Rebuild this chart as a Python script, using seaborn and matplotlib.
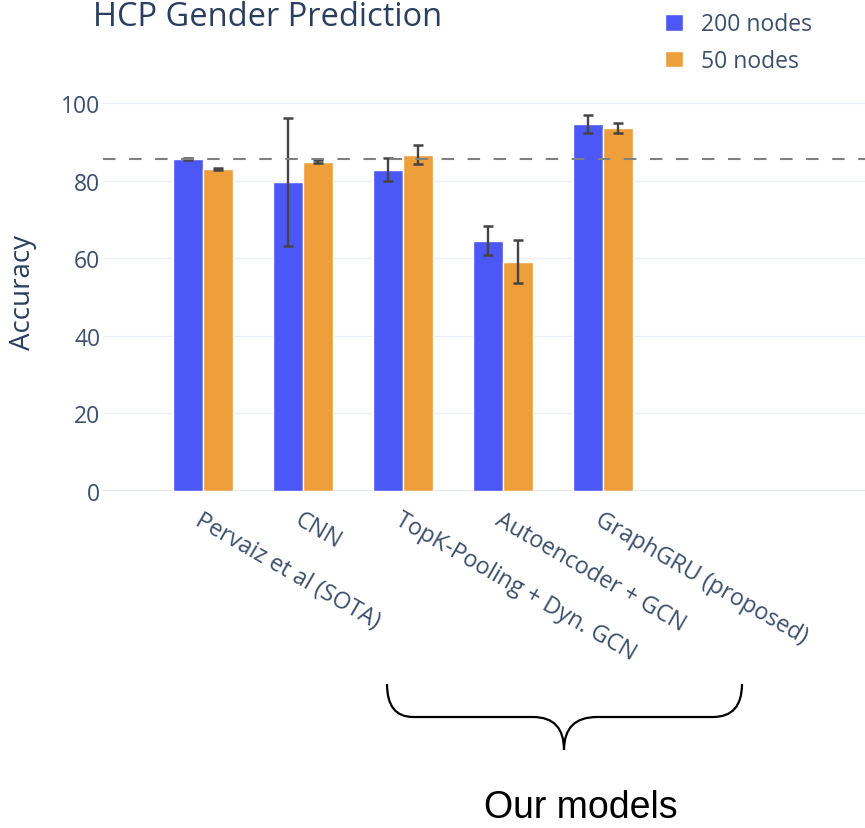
import matplotlib
matplotlib.use("Agg")
import matplotlib.pyplot as plt
from matplotlib.path import Path
from matplotlib.patches import PathPatch
import numpy as np
import pandas as pd
import seaborn as sns

# values
models = ["Pervaiz et al (SOTA)", "CNN", "TopK-Pooling + Dyn. GCN",
          "Autoencoder + GCN", "GraphGRU (proposed)"]
acc_200 = [85.6, 79.6, 82.8, 64.5, 94.6]
err_200 = [0.2, 16.4, 2.9, 3.7, 2.4]
acc_50 = [83.0, 84.9, 86.7, 59.1, 93.6]
err_50 = [0.2, 0.5, 2.4, 5.5, 1.3]
series = ["200 nodes", "50 nodes"]
sota_line = 85.6
y_ticks = [0, 20, 40, 60, 80, 100]

BLUE = "#4C58F6"
ORANGE = "#EE9F3C"
TXT = "#2a3f5f"
TICK = "#3d4f6b"
GRID = "#EBF0F8"

W, H = 865, 829

df = pd.DataFrame({
    "model": models * 2,
    "accuracy": acc_200 + acc_50,
    "err": err_200 + err_50,
    "nodes": [series[0]] * len(models) + [series[1]] * len(models),
})

sns.set_theme(style="white")
plt.rcParams["font.family"] = ["Open Sans", "DejaVu Sans"]

fig = plt.figure(figsize=(W / 100, H / 100), dpi=100)
ax = fig.add_axes([103 / W, 1 - 492 / H, 1 - 103 / W, (492 - 96.2) / H])

sns.barplot(data=df, x="model", y="accuracy", hue="nodes", hue_order=series,
            palette=[BLUE, ORANGE], width=0.6, errorbar=None, saturation=1,
            edgecolor="white", linewidth=1, ax=ax, zorder=3)

# error bars on top of each bar
errs = [err_200, err_50]
for cont, e in zip(ax.containers, errs):
    xs = [p.get_x() + p.get_width() / 2 for p in cont.patches]
    ys = [p.get_height() for p in cont.patches]
    ax.errorbar(xs, ys, yerr=e, fmt="none", ecolor="#444444",
                elinewidth=1.7, capsize=3.3, capthick=1.8, zorder=4)

ax.axhline(sota_line, color="#808080", lw=1.5, ls=(0, (6, 6.5)), zorder=5)

ax.set_xlim(-1.0, 6.62)
ax.set_ylim(0, 102)
ax.set_yticks(y_ticks)
ax.set_yticklabels([str(t) for t in y_ticks])
ax.yaxis.grid(True, color=GRID, lw=1, zorder=0)
ax.xaxis.grid(False)
ax.axhline(0, color="#E3E8F2", lw=1.5, zorder=1)
for s in ax.spines.values():
    s.set_visible(False)
ax.tick_params(axis="y", length=0, pad=2, labelsize=16.5, labelcolor=TICK)
ax.tick_params(axis="x", length=0, pad=12, labelsize=16.8, labelcolor=TICK)
ax.set_xlabel("")
ax.set_ylabel("")
for lab in ax.get_xticklabels():
    lab.set_rotation(-30)
    lab.set_ha("left")
    lab.set_va("top")
    lab.set_rotation_mode("anchor")

handles, labels = ax.get_legend_handles_labels()
ax.get_legend().remove()
fig.legend(handles, labels, loc="upper left", bbox_to_anchor=(654 / W, 1 - 2 / H),
           frameon=False, fontsize=16.5, labelcolor=TICK, handlelength=0.75,
           handleheight=0.75, handletextpad=0.8, labelspacing=0.55, borderpad=0)

fig.text(93 / W, 1 - 26 / H, "HCP Gender Prediction", fontsize=23.5, color=TXT,
         ha="left", va="baseline")
fig.text(23 / W, 1 - 293 / H, "Accuracy", fontsize=20, color=TXT,
         rotation=90, ha="center", va="center")

# brace under "our models"
def P(x, y):
    return (x / W, 1 - y / H)

verts = [P(387, 685), P(387, 718), P(413, 718),
         P(533, 718),
         P(564, 718), P(564, 751),
         P(564, 718), P(597, 718),
         P(713, 718),
         P(742, 718), P(742, 685)]
codes = [Path.MOVETO, Path.CURVE3, Path.CURVE3,
         Path.LINETO,
         Path.CURVE3, Path.CURVE3,
         Path.CURVE3, Path.CURVE3,
         Path.LINETO,
         Path.CURVE3, Path.CURVE3]
fig.patches.append(PathPatch(Path(verts, codes), fill=False, lw=1.6,
                             edgecolor="black", transform=fig.transFigure))
fig.text(581 / W, 1 - 808 / H, "Our models", fontsize=27, color="black",
         family=["Liberation Sans", "DejaVu Sans"], ha="center", va="center")

fig.savefig("out.png", dpi=100)
